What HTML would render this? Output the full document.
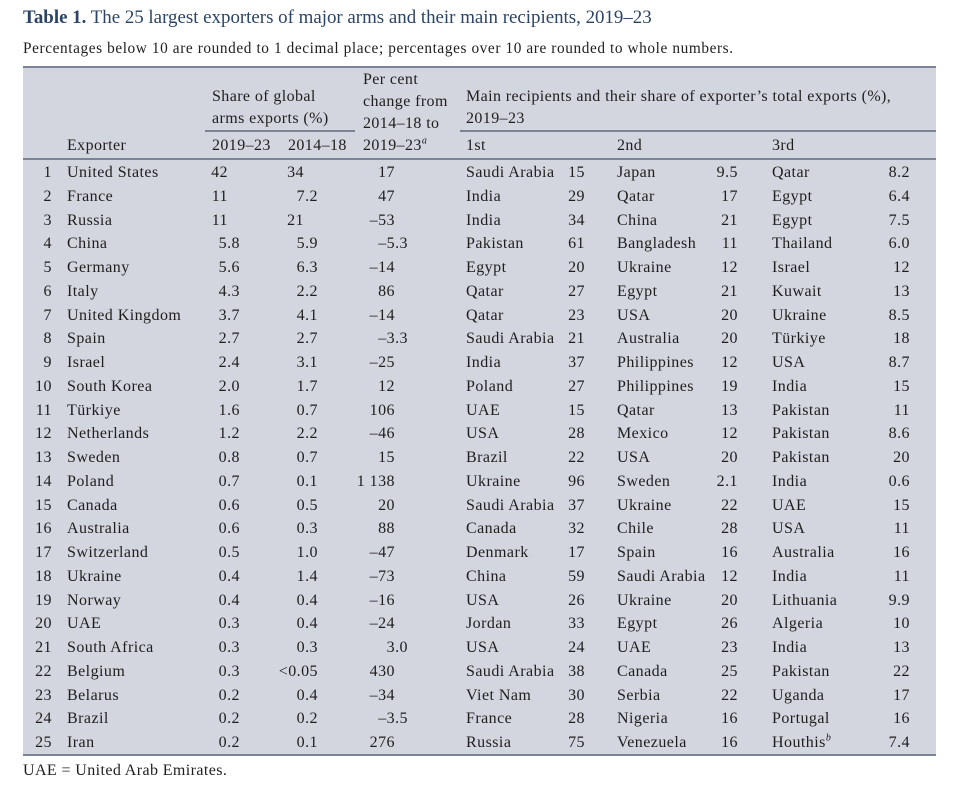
<!DOCTYPE html>
<html><head><meta charset="utf-8">
<style>
body{margin:0;background:#fff;width:953px;height:785px;position:relative;overflow:hidden;font-family:"Liberation Serif",serif;color:#1e1e1e}
.abs{position:absolute;white-space:nowrap}
sup{line-height:0;font-size:10px;font-style:italic}
#title{left:23px;top:7px;font-size:18.9px;color:#2b4466}
#sub{left:23px;top:40px;font-size:15.3px;letter-spacing:0.6px}
#tbl{position:absolute;left:23px;top:66px;width:913px;height:690px;background:#d3d6de;border-top:2px solid #7b8496;border-bottom:2px solid #7b8496;box-sizing:border-box}
.h{font-size:16px;line-height:22px;letter-spacing:0.4px}
.rule{position:absolute;height:1.5px;background:#7b8496}
.c{position:absolute;font-size:16px;letter-spacing:0.45px;line-height:23.75px;white-space:nowrap}
.r{text-align:right}
#foot{left:23px;top:762px;font-size:16px;letter-spacing:0.4px}
</style></head><body>
<div class="abs" id="title"><b>Table 1.</b> The 25 largest exporters of major arms and their main recipients, 2019–23</div>
<div class="abs" id="sub">Percentages below 10 are rounded to 1 decimal place; percentages over 10 are rounded to whole numbers.</div>
<div id="tbl"></div>
<div class="abs h" style="left:212px;top:86px">Share of global<br>arms exports (%)</div>
<div class="rule" style="left:205px;top:130px;width:150px"></div>
<div class="abs h" style="left:363px;top:69px">Per cent<br>change from<br>2014–18 to<br>2019–23<sup>a</sup></div>
<div class="abs h" style="left:466px;top:86px">Main recipients and their share of exporter’s total exports (%),<br>2019–23</div>
<div class="rule" style="left:460px;top:130px;width:476px"></div>
<div class="abs h" style="left:67px;top:135px">Exporter</div>
<div class="abs h" style="left:212px;top:135px">2019–23</div>
<div class="abs h" style="left:288px;top:135px">2014–18</div>
<div class="abs h" style="left:466px;top:135px">1st</div>
<div class="abs h" style="left:617px;top:135px">2nd</div>
<div class="abs h" style="left:772px;top:135px">3rd</div>
<div class="rule" style="left:23px;top:158px;width:913px;height:2px"></div>
<div class="abs" id="foot">UAE = United Arab Emirates.</div>
<script>
const exporters=["United States","France","Russia","China","Germany","Italy","United Kingdom","Spain","Israel","South Korea","Türkiye","Netherlands","Sweden","Poland","Canada","Australia","Switzerland","Ukraine","Norway","UAE","South Africa","Belgium","Belarus","Brazil","Iran"];
const share1923=["42","11","11","5.8","5.6","4.3","3.7","2.7","2.4","2.0","1.6","1.2","0.8","0.7","0.6","0.6","0.5","0.4","0.4","0.3","0.3","0.3","0.2","0.2","0.2"];
const share1418=["34","7.2","21","5.9","6.3","2.2","4.1","2.7","3.1","1.7","0.7","2.2","0.7","0.1","0.5","0.3","1.0","1.4","0.4","0.4","0.3","<0.05","0.4","0.2","0.1"];
const change=["17","47","–53","–5.3","–14","86","–14","–3.3","–25","12","106","–46","15","1 138","20","88","–47","–73","–16","–24","3.0","430","–34","–3.5","276"];
const rec1=["Saudi Arabia","India","India","Pakistan","Egypt","Qatar","Qatar","Saudi Arabia","India","Poland","UAE","USA","Brazil","Ukraine","Saudi Arabia","Canada","Denmark","China","USA","Jordan","USA","Saudi Arabia","Viet Nam","France","Russia"];
const val1=["15","29","34","61","20","27","23","21","37","27","15","28","22","96","37","32","17","59","26","33","24","38","30","28","75"];
const rec2=["Japan","Qatar","China","Bangladesh","Ukraine","Egypt","USA","Australia","Philippines","Philippines","Qatar","Mexico","USA","Sweden","Ukraine","Chile","Spain","Saudi Arabia","Ukraine","Egypt","UAE","Canada","Serbia","Nigeria","Venezuela"];
const val2=["9.5","17","21","11","12","21","20","20","12","19","13","12","20","2.1","22","28","16","12","20","26","23","25","22","16","16"];
const rec3=["Qatar","Egypt","Egypt","Thailand","Israel","Kuwait","Ukraine","Türkiye","USA","India","Pakistan","Pakistan","Pakistan","India","UAE","USA","Australia","India","Lithuania","Algeria","India","Pakistan","Uganda","Portugal","Houthis"];
const val3=["8.2","6.4","7.5","6.0","12","13","8.5","18","8.7","15","11","8.6","20","0.6","15","11","16","11","9.9","10","13","22","17","16","7.4"];
const ROW0=161, RH=23.75;
function cell(txt,row,left,right,name){
  const d=document.createElement('div');
  d.className='c'+(right!=null?' r':'');
  
  
  d.style.top=(ROW0+row*RH)+'px';
  if(right!=null){d.style.right=(953-right)+'px';}else{d.style.left=left+'px';}
  d.innerHTML=txt;
  document.body.appendChild(d);
}
function dec(v,intRight,decOff){
  return v.indexOf('.')>=0 ? intRight+decOff : intRight;
}
exporters.forEach((e,i)=>{
  cell(String(i+1),i,null,52,'rank-cell');
  cell(e,i,67,null,'exporter-cell');
  cell(share1923[i],i,null,dec(share1923[i],228,12),'share-2019-23-cell');
  let s=share1418[i].replace('<','&lt;');
  cell(s,i,null,dec(share1418[i],304,14),'share-2014-18-cell');
  cell(change[i],i,null,dec(change[i],395,13),'change-cell');
  cell(rec1[i],i,466,null,'recipient-1-cell');
  cell(val1[i],i,null,585,'recipient-1-share');
  cell(rec2[i],i,617,null,'recipient-2-cell');
  cell(val2[i],i,null,738,'recipient-2-share');
  cell(rec3[i]+(rec3[i]==='Houthis'?'<sup>b</sup>':''),i,772,null,'recipient-3-cell');
  cell(val3[i],i,null,910,'recipient-3-share');
});
</script>
</body></html>
